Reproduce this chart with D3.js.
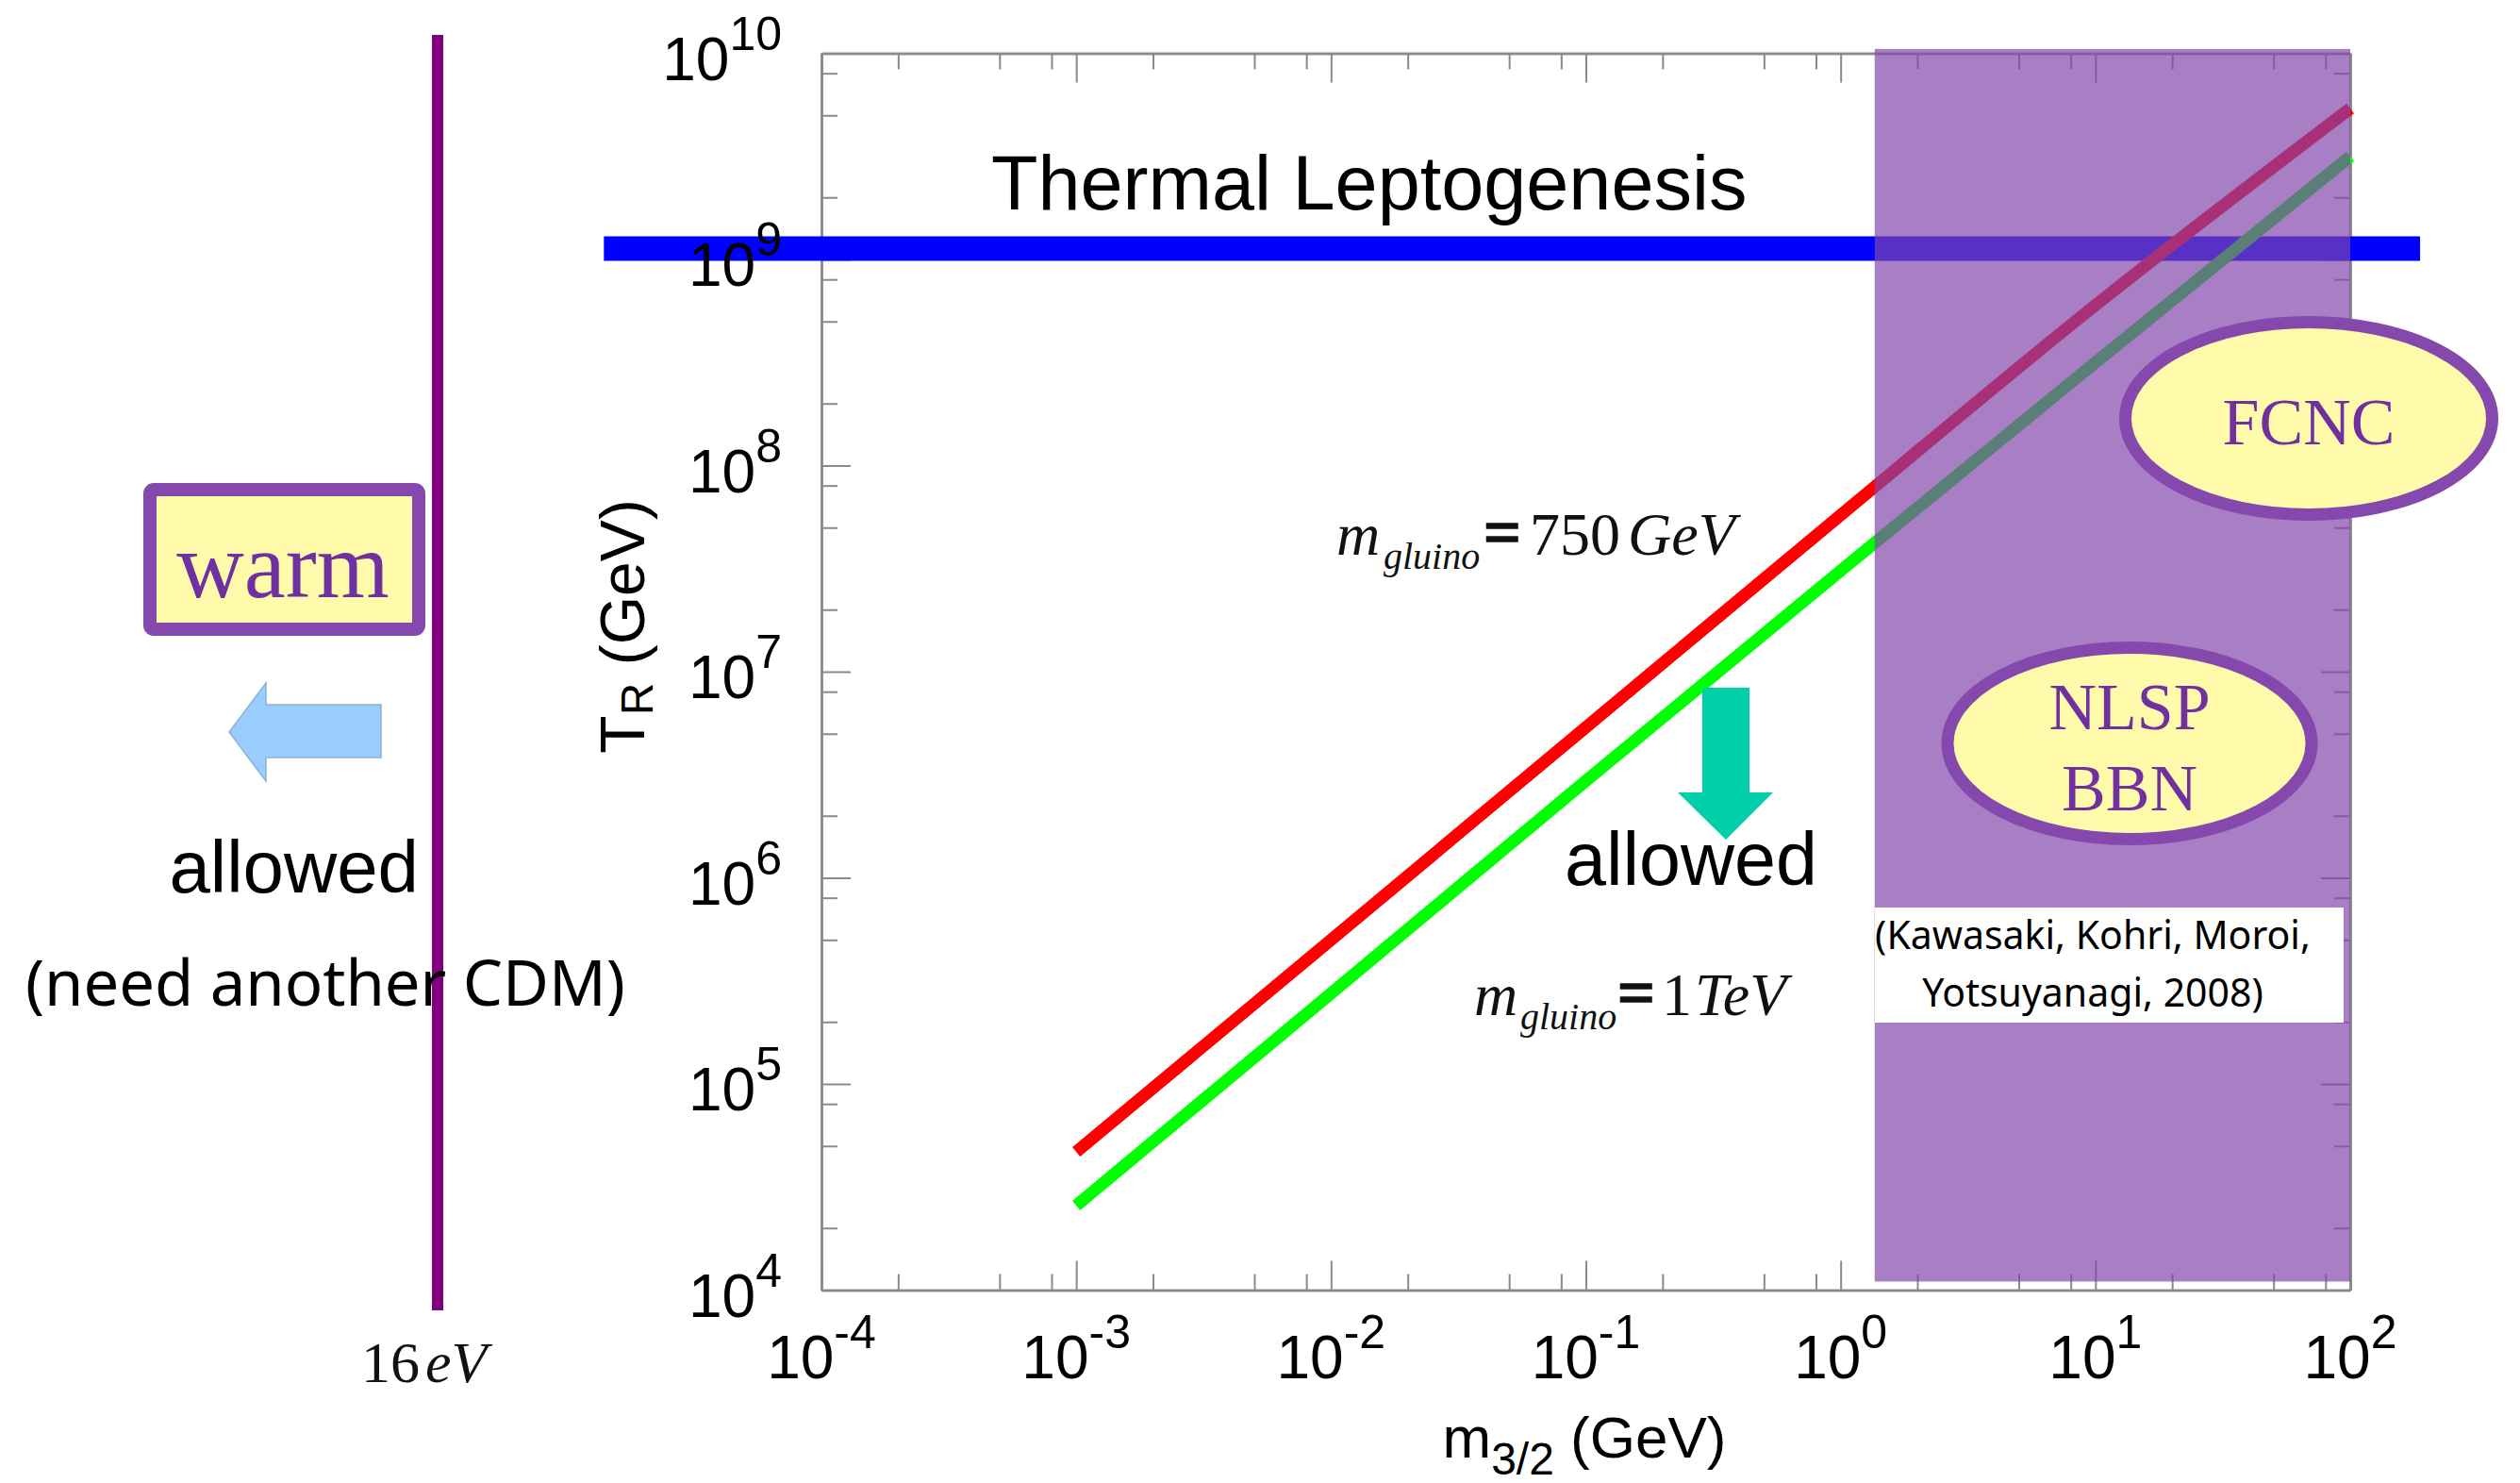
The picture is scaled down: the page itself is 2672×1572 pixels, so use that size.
<!DOCTYPE html>
<html><head><meta charset="utf-8">
<script src="https://cdn.jsdelivr.net/npm/d3@7"></script>
<style>html,body{margin:0;padding:0;background:#fff;} svg{display:block;}</style>
</head><body>
<svg id="chart" width="2672" height="1572"></svg>
<script>
// ---------- data ----------
const xExponents = [-4, -3, -2, -1, 0, 1, 2];
const yExponents = [4, 5, 6, 7, 8, 9, 10];
const minorMantissas = [2, 5, 8];
const m32GeV = [1e-3, 1e-2, 1e-1, 1, 10, 100];
const tr750GeV = [4.68e4, 5.0e5, 5.37e6, 5.75e7, 6.0e8, 5.4e9];
const tr1TeV = [2.57e4, 2.75e5, 2.95e6, 3.09e7, 3.16e8, 3.16e9];
const leptogenesisTR = 1.13e9;
const leptogenesisM32 = [1.4e-5, 188];
const excludedM32 = [1.36, 100];
const excludedTR = [1.1e4, 1.05e10];
const citationLines = ["(Kawasaki, Kohri, Moroi,", "Yotsuyanagi, 2008)"];

// ---------- setup ----------
const svg = d3.select("#chart");
svg.append("rect").attr("width", 2672).attr("height", 1572).attr("fill", "#fff");

const x = d3.scaleLog().domain([1e-4, 1e2]).range([871, 2492]);
const y = d3.scaleLog().domain([1e4, 1e10]).range([1367.5, 56.5]);

const majorX = xExponents.map(e => Math.pow(10, e));
const minorX = xExponents.slice(0, -1).flatMap(e => minorMantissas.map(m => m * Math.pow(10, e)));
const majorY = yExponents.map(e => Math.pow(10, e));
const minorY = yExponents.slice(0, -1).flatMap(e => minorMantissas.map(m => m * Math.pow(10, e)));

const AX = "#8a8a8a";
function styleAxis(g) {
  g.select(".domain").attr("stroke", AX).attr("stroke-width", 2.5);
  g.selectAll(".tick line").attr("stroke", AX).attr("stroke-width", 2);
  g.selectAll(".tick text").remove();
}
const axes = svg.append("g");
function addAxis(gen, tf, vals, size) {
  axes.append("g").attr("transform", tf)
    .call(gen.tickValues(vals).tickSize(-size).tickSizeOuter(0).tickFormat(""))
    .call(styleAxis);
}
[[majorX, 31], [minorX, 17]].forEach(([v, s]) => {
  addAxis(d3.axisBottom(x), `translate(0,${y.range()[0]})`, v, s);
  addAxis(d3.axisTop(x), `translate(0,${y.range()[1]})`, v, s);
});
[[majorY, 31], [minorY, 17]].forEach(([v, s]) => {
  addAxis(d3.axisLeft(y), `translate(${x.range()[0]},0)`, v, s);
  addAxis(d3.axisRight(y), `translate(${x.range()[1]},0)`, v, s);
});

const SANS = "'Liberation Sans', Arial, sans-serif";
const SERIF = "'Liberation Serif', 'Times New Roman', serif";

// leptogenesis band
svg.append("line")
  .attr("x1", x(leptogenesisM32[0])).attr("x2", x(leptogenesisM32[1]))
  .attr("y1", y(leptogenesisTR)).attr("y2", y(leptogenesisTR))
  .attr("stroke", "#0000ff").attr("stroke-width", 26);
svg.append("text").attr("x", 1051).attr("y", 222).attr("font-family", SANS)
  .attr("font-size", 81).attr("fill", "#000").text("Thermal Leptogenesis");

// tick labels (drawn over the band)
xExponents.forEach(e => {
  const t = svg.append("text").attr("x", x(Math.pow(10, e))).attr("y", 1461)
    .attr("text-anchor", "middle").attr("font-family", SANS).attr("fill", "#000");
  t.append("tspan").attr("font-size", 64).text("10");
  t.append("tspan").attr("font-size", 50).attr("dy", -32).text(String(e));
});
yExponents.forEach(e => {
  const t = svg.append("text").attr("x", 829).attr("y", y(Math.pow(10, e)) + 28)
    .attr("text-anchor", "end").attr("font-family", SANS).attr("fill", "#000");
  t.append("tspan").attr("font-size", 64).text("10");
  t.append("tspan").attr("font-size", 50).attr("dy", -32).text(String(e));
});

// axis titles
const yt = svg.append("text").attr("transform", "translate(683,664) rotate(-90)")
  .attr("text-anchor", "middle").attr("font-family", SANS).attr("font-size", 66);
yt.append("tspan").text("T");
yt.append("tspan").attr("font-size", 48).attr("dy", 9).text("R");
yt.append("tspan").attr("dy", -9).text(" (GeV)");

const xt = svg.append("text").attr("x", 1680).attr("y", 1545)
  .attr("text-anchor", "middle").attr("font-family", SANS).attr("font-size", 62);
xt.append("tspan").text("m");
xt.append("tspan").attr("font-size", 48).attr("dy", 18).text("3/2");
xt.append("tspan").attr("dy", -18).text(" (GeV)");

// curves
const line = d3.line().curve(d3.curveMonotoneX).x(d => x(d[0])).y(d => y(d[1]));
[[tr750GeV, "#ff0000"], [tr1TeV, "#00ff00"]].forEach(([vals, c]) => {
  svg.append("path").datum(m32GeV.map((m, i) => [m, vals[i]]))
    .attr("d", line).attr("fill", "none").attr("stroke", c)
    .attr("stroke-width", 13).attr("stroke-linejoin", "round");
});

// excluded (purple) region
svg.append("rect")
  .attr("x", x(excludedM32[0])).attr("width", x(excludedM32[1]) - x(excludedM32[0]))
  .attr("y", y(excludedTR[1])).attr("height", y(excludedTR[0]) - y(excludedTR[1]))
  .attr("fill", "rgb(129,70,171)").attr("fill-opacity", 0.69);

// ellipses
const EFILL = "#fffbaa", ESTROKE = "#8549ae", ETEXT = "#7030a0";
function bubble(cx, cy, rx, ry, lines, baselines) {
  svg.append("ellipse").attr("cx", cx).attr("cy", cy).attr("rx", rx).attr("ry", ry)
    .attr("fill", EFILL).attr("stroke", ESTROKE).attr("stroke-width", 13);
  lines.forEach((l, i) => svg.append("text").attr("x", cx).attr("y", baselines[i])
    .attr("text-anchor", "middle").attr("font-family", SERIF).attr("font-size", 70)
    .attr("fill", ETEXT).text(l));
}
bubble(2448, 443.5, 194.5, 102, ["FCNC"], [471]);
bubble(2258, 788, 193, 101.5, ["NLSP", "BBN"], [773, 859]);

// citation
svg.append("rect").attr("x", 1988).attr("y", 962).attr("width", 497).attr("height", 122).attr("fill", "#fff");
citationLines.forEach((l, i) => svg.append("text").attr("x", 2219).attr("y", [1006, 1067][i])
  .attr("text-anchor", "middle").attr("font-family", "'Noto Sans', sans-serif")
  .attr("font-size", 41).attr("fill", "#000").text(l));

// gluino labels
function gluino(x0, base, pos, num, unit) {
  const add = (xx, yy, txt, size, style, weight) => svg.append("text").attr("x", xx).attr("y", yy)
    .attr("font-family", SERIF).attr("font-size", size).attr("font-style", style)
    .attr("font-weight", weight).attr("fill", "#111").text(txt);
  add(x0, base, "m", 64, "italic", "normal");
  add(pos[0], base + 15, "gluino", 40, "italic", "normal");
  add(pos[1], base, "=", 70, "normal", "bold").attr("stroke", "#111").attr("stroke-width", 1.5);
  add(pos[2], base, num, 64, "normal", "normal");
  add(pos[3], base, unit, 64, "italic", "normal");
}
gluino(1417, 588, [1467, 1573, 1622, 1726], "750", "GeV");
gluino(1563, 1076, [1612, 1715, 1762, 1797], "1", "TeV");

// allowed (right) + teal arrow
svg.append("path")
  .attr("d", "M1805,729 L1855,729 L1855,840 L1880,840 L1830,890 L1779,840 L1805,840 Z")
  .attr("fill", "#00cfaa");
svg.append("text").attr("x", 1659).attr("y", 938).attr("font-family", SANS)
  .attr("font-size", 79).attr("fill", "#000").text("allowed");

// left panel: 16 eV line, warm box, arrow, texts
svg.append("line").attr("x1", 464).attr("x2", 464).attr("y1", 37).attr("y2", 1389)
  .attr("stroke", "#800080").attr("stroke-width", 12);
const ev = svg.append("text").attr("x", 383).attr("y", 1465)
  .attr("font-family", SERIF).attr("font-size", 62).attr("fill", "#111");
ev.append("tspan").text("16");
ev.append("tspan").attr("dx", 6).attr("font-style", "italic").text("eV");

svg.append("rect").attr("x", 159).attr("y", 519).attr("width", 285).attr("height", 148)
  .attr("rx", 4).attr("fill", EFILL).attr("stroke", ESTROKE).attr("stroke-width", 14);
svg.append("text").attr("x", 300).attr("y", 633).attr("text-anchor", "middle")
  .attr("font-family", SERIF).attr("font-size", 99).attr("fill", ETEXT).text("warm");

svg.append("path")
  .attr("d", "M243,776 L282,724 L282,747 L404,747 L404,803 L282,803 L282,828 Z")
  .attr("fill", "#99ccff").attr("stroke", "#8fb0d0").attr("stroke-width", 1.5);

svg.append("text").attr("x", 444).attr("y", 946).attr("text-anchor", "end")
  .attr("font-family", SANS).attr("font-size", 78).attr("fill", "#000").text("allowed");
svg.append("text").attr("x", 27).attr("y", 1066)
  .attr("font-family", "'Noto Sans', sans-serif").attr("font-size", 67).attr("fill", "#000")
  .text("(need another CDM)");
</script>
</body></html>
